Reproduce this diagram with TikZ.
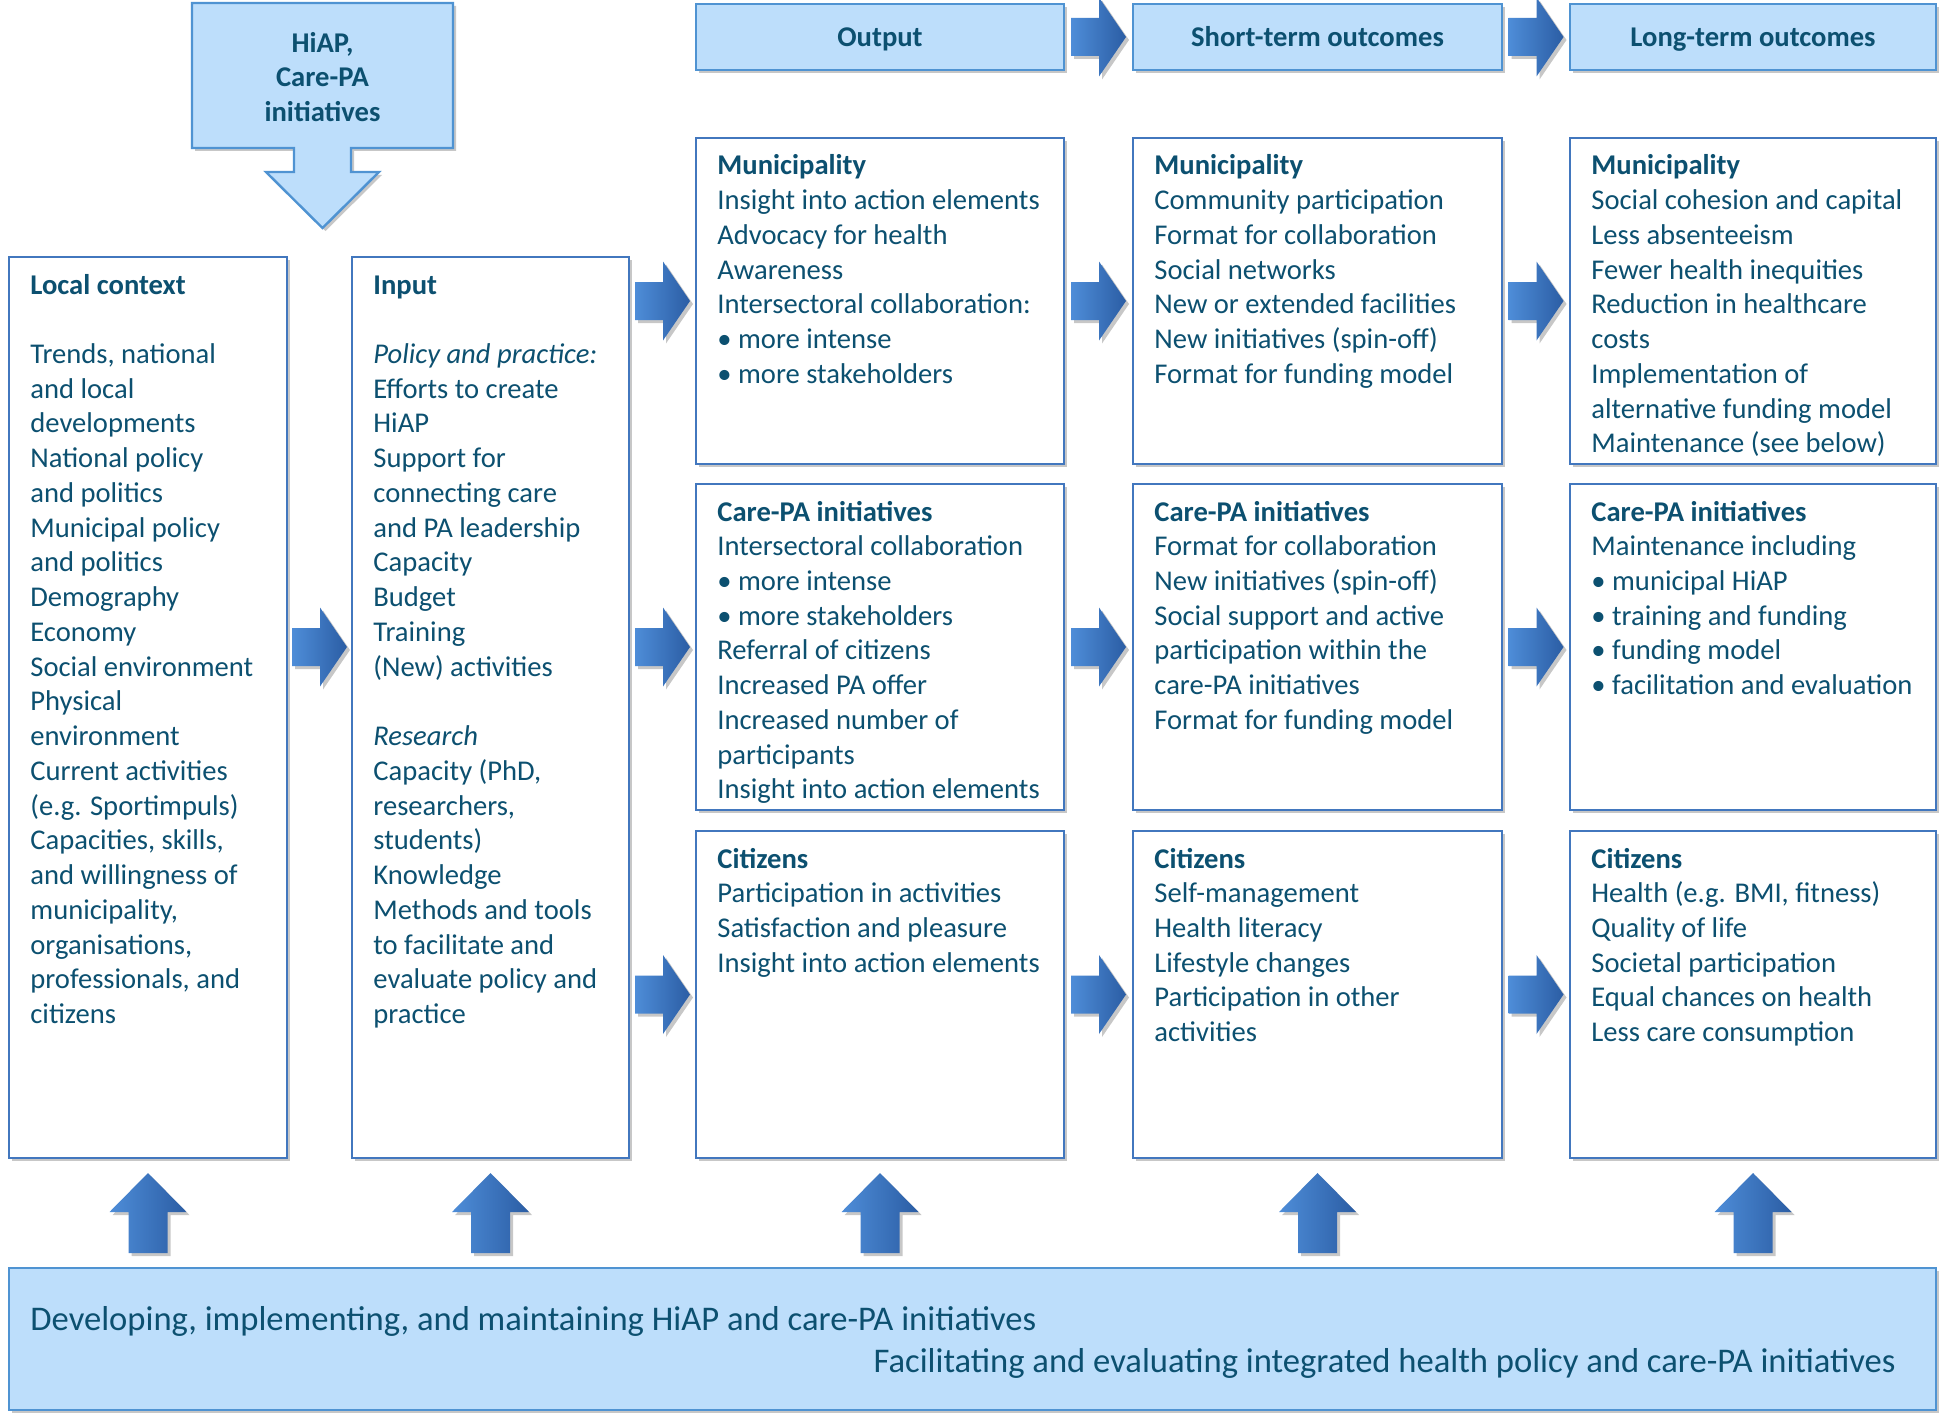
\documentclass[tikz,border=0pt]{standalone}
\usepackage{fontspec}
\setmainfont{Carlito}
\usetikzlibrary{shadows,calc}
\definecolor{txt}{HTML}{0C5070}
\definecolor{lfill}{HTML}{BDDEFB}
\definecolor{lborder}{HTML}{4F93D2}
\definecolor{wborder}{HTML}{4277BE}
\definecolor{arrL}{HTML}{4E8DD8}
\definecolor{arrR}{HTML}{2B5DA4}
\newcommand\blk[1]{\parbox[t]{300pt}{\raggedright\fontsize{14.3}{17.37}\selectfont #1}}
\tikzset{
 shadowed/.style={drop shadow={shadow xshift=1.5pt,shadow yshift=-1.5pt,opacity=0.22,fill=black}},
 wbox/.style={draw=wborder, line width=0.8pt, fill=white, shadowed, anchor=north west, inner sep=0, outer sep=0},
 lbox/.style={draw=lborder, line width=1.2pt, fill=lfill, shadowed, anchor=north west, inner sep=0, outer sep=0},
 body/.style={anchor=base west, inner sep=0, text=txt},
 headtxt/.style={text=txt, font=\fontsize{14.3}{17.37}\selectfont\bfseries, align=center},
 headbox/.style={lbox, headtxt, text height=11.2pt, text depth=2pt},
 barrow/.style={left color=arrL, right color=arrR, draw=none, shadowed},
 rarr/.pic={\path[barrow] (-27.5,-19) -- (0.5,-19) -- (0.5,-39.5) -- (27.5,0) -- (0.5,39.5) -- (0.5,19) -- (-27.5,19) -- cycle;},
 uarr/.pic={\path[barrow] (-19.5,40) -- (-19.5,-1) -- (-38.5,-1) -- (0,-40) -- (38.5,-1) -- (19.5,-1) -- (19.5,40) -- cycle;}
}
\begin{document}
\begin{tikzpicture}[x=0.5pt,y=-0.5pt]
\useasboundingbox[fill=white] (0,0) rectangle (1946,1423);

% HiAP block arrow
\draw[draw=lborder, line width=1.2pt, fill=lfill, shadowed]
 (192,3) -- (453,3) -- (453,148) -- (351,148) -- (351,172) -- (379,172) -- (322.5,228)
 -- (266,172) -- (294,172) -- (294,148) -- (192,148) -- cycle;
\node[headtxt, inner sep=0] (hiap) at (322.5,77) {HiAP,\\Care-PA\\initiatives};

% headers
\node[headbox, minimum width=184pt, minimum height=33pt] (hO) at (696,4) {Output};
\node[headbox, minimum width=184.5pt, minimum height=33pt] (hS) at (1133,4) {Short-term outcomes};
\node[headbox, minimum width=183pt, minimum height=33pt] (hL) at (1570,4) {Long-term outcomes};

% boxes
\node[wbox, minimum width=139pt, minimum height=450.5pt] (local) at (9,257) {};
\node[wbox, minimum width=138.5pt, minimum height=450.5pt] (input) at (352,257) {};
\node[wbox, minimum width=184pt, minimum height=163pt] (o1) at (696,138) {};
\node[wbox, minimum width=184pt, minimum height=163pt] (o2) at (696,484) {};
\node[wbox, minimum width=184pt, minimum height=163.5pt] (o3) at (696,831) {};
\node[wbox, minimum width=184.5pt, minimum height=163pt] (s1) at (1133,138) {};
\node[wbox, minimum width=184.5pt, minimum height=163pt] (s2) at (1133,484) {};
\node[wbox, minimum width=184.5pt, minimum height=163.5pt] (s3) at (1133,831) {};
\node[wbox, minimum width=183pt, minimum height=163pt] (l1) at (1570,138) {};
\node[wbox, minimum width=183pt, minimum height=163pt] (l2) at (1570,484) {};
\node[wbox, minimum width=183pt, minimum height=163.5pt] (l3) at (1570,831) {};
\node[lbox, minimum width=963.5pt, minimum height=71pt] (bottom) at (9,1268) {};

% texts
\node[body] (tlocal) at ([shift={(21,37)}]local.north west) {\blk{\textbf{Local context}\\[17.37pt]
Trends, national\\and local\\developments\\National policy\\and politics\\Municipal policy\\and politics\\Demography\\Economy\\Social environment\\Physical\\environment\\Current activities\\(e.g. Sportimpuls)\\Capacities, skills,\\and willingness of\\municipality,\\organisations,\\professionals, and\\citizens}};
\node[body] (tinput) at ([shift={(21,37)}]input.north west) {\blk{\textbf{Input}\\[17.37pt]
\textit{Policy and practice:}\\Efforts to create\\HiAP\\Support for\\connecting care\\and PA leadership\\Capacity\\Budget\\Training\\(New) activities\\[17.37pt]
\textit{Research}\\Capacity (PhD,\\researchers,\\students)\\Knowledge\\Methods and tools\\to facilitate and\\evaluate policy and\\practice}};

\node[body] (to1) at ([shift={(21,37)}]o1.north west) {\blk{\textbf{Municipality}\\Insight into action elements\\Advocacy for health\\Awareness\\Intersectoral collaboration:\\• more intense\\• more stakeholders}};
\node[body] (to2) at ([shift={(21,37)}]o2.north west) {\blk{\textbf{Care-PA initiatives}\\Intersectoral collaboration\\• more intense\\• more stakeholders\\Referral of citizens\\Increased PA offer\\Increased number of\\participants\\Insight into action elements}};
\node[body] (to3) at ([shift={(21,37)}]o3.north west) {\blk{\textbf{Citizens}\\Participation in activities\\Satisfaction and pleasure\\Insight into action elements}};

\node[body] (ts1) at ([shift={(21,37)}]s1.north west) {\blk{\textbf{Municipality}\\Community participation\\Format for collaboration\\Social networks\\New or extended facilities\\New initiatives (spin-off)\\Format for funding model}};
\node[body] (ts2) at ([shift={(21,37)}]s2.north west) {\blk{\textbf{Care-PA initiatives}\\Format for collaboration\\New initiatives (spin-off)\\Social support and active\\participation within the\\care-PA initiatives\\Format for funding model}};
\node[body] (ts3) at ([shift={(21,37)}]s3.north west) {\blk{\textbf{Citizens}\\Self-management\\Health literacy\\Lifestyle changes\\Participation in other\\activities}};

\node[body] (tl1) at ([shift={(21,37)}]l1.north west) {\blk{\textbf{Municipality}\\Social cohesion and capital\\Less absenteeism\\Fewer health inequities\\Reduction in healthcare\\costs\\Implementation of\\alternative funding model\\Maintenance (see below)}};
\node[body] (tl2) at ([shift={(21,37)}]l2.north west) {\blk{\textbf{Care-PA initiatives}\\Maintenance including\\• municipal HiAP\\• training and funding\\• funding model\\• facilitation and evaluation}};
\node[body] (tl3) at ([shift={(21,37)}]l3.north west) {\blk{\textbf{Citizens}\\Health (e.g. BMI, fitness)\\Quality of life\\Societal participation\\Equal chances on health\\Less care consumption}};

\node[anchor=base west, inner sep=0, text=txt, font=\fontsize{17.3}{20}\selectfont] (b1) at ([shift={(21,62)}]bottom.north west) {Developing, implementing, and maintaining HiAP and care-PA initiatives};
\node[anchor=base east, inner sep=0, text=txt, font=\fontsize{17.3}{20}\selectfont] (b2) at ([shift={(-40,104)}]bottom.north east) {Facilitating and evaluating integrated health policy and care-PA initiatives};

% header arrows
\pic at ($(hO.east)!0.5!(hS.west)$) {rarr};
\pic at ($(hS.east)!0.5!(hL.west)$) {rarr};
% right arrows
\pic at ($(local.east |- o2.center)!0.5!(input.west |- o2.center)$) {rarr};
\pic at ($(input.east |- o1.center)!0.5!(o1.west)$) {rarr};
\pic at ($(input.east |- o2.center)!0.5!(o2.west)$) {rarr};
\pic at ($(input.east |- o3.center)!0.5!(o3.west)$) {rarr};
\pic at ($(o1.east)!0.5!(s1.west)$) {rarr};
\pic at ($(o2.east)!0.5!(s2.west)$) {rarr};
\pic at ($(o3.east)!0.5!(s3.west)$) {rarr};
\pic at ($(s1.east)!0.5!(l1.west)$) {rarr};
\pic at ($(s2.east)!0.5!(l2.west)$) {rarr};
\pic at ($(s3.east)!0.5!(l3.west)$) {rarr};
% up arrows
\pic at ($(local.south)!0.5!(local.south |- bottom.north)$) {uarr};
\pic at ($(input.south)!0.5!(input.south |- bottom.north)$) {uarr};
\pic at ($(o3.south)!0.5!(o3.south |- bottom.north)$) {uarr};
\pic at ($(s3.south)!0.5!(s3.south |- bottom.north)$) {uarr};
\pic at ($(l3.south)!0.5!(l3.south |- bottom.north)$) {uarr};
\end{tikzpicture}
\end{document}
